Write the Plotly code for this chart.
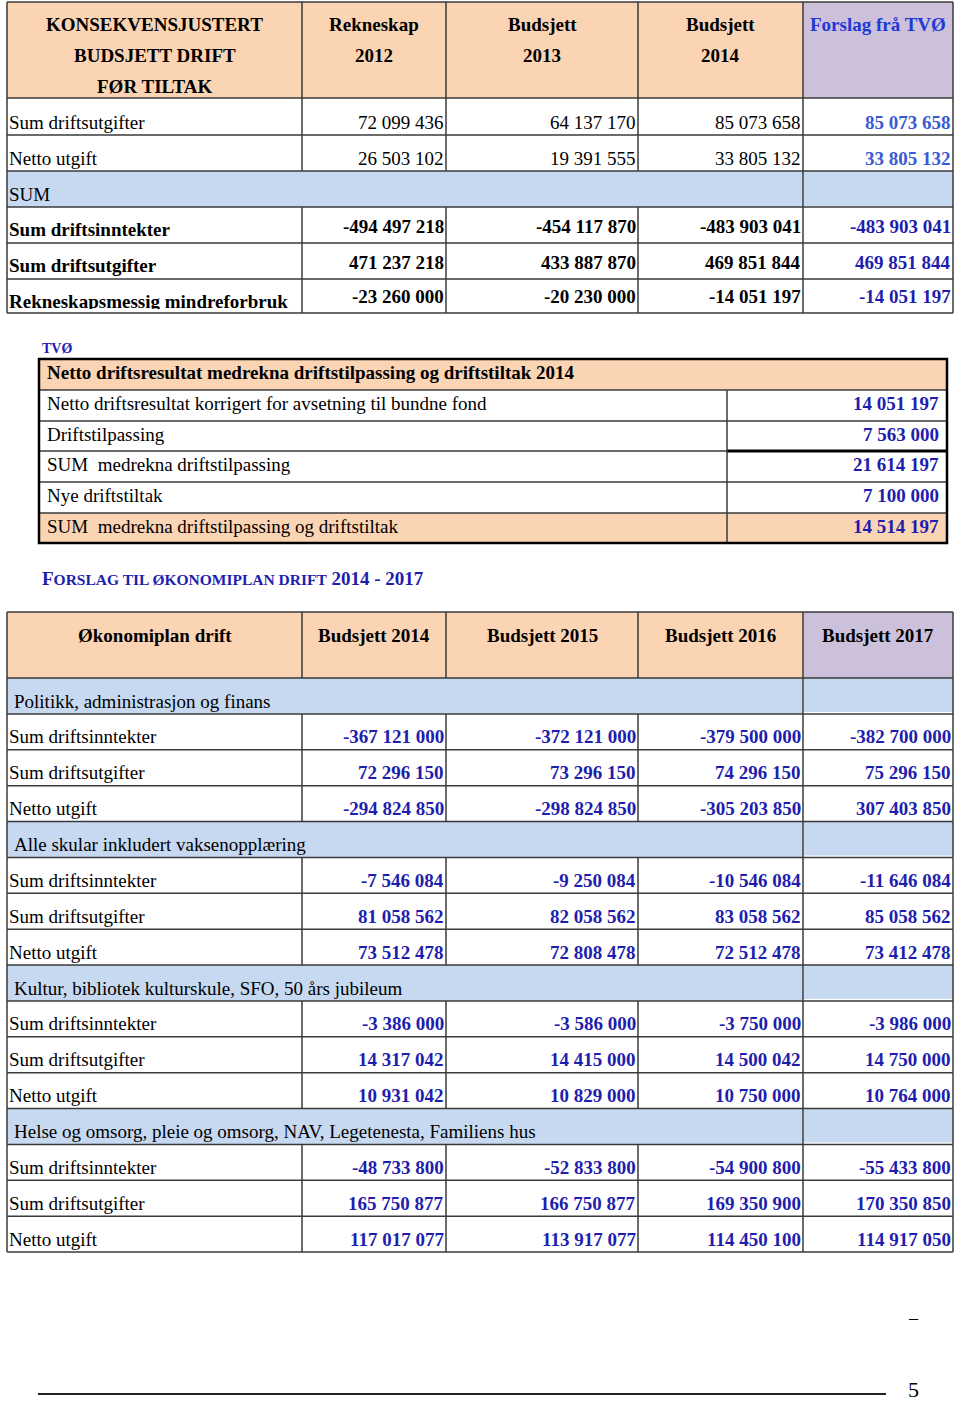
import plotly.graph_objects as go

# ---------------- data ----------------
top_headers = ["KONSEKVENSJUSTERT<br>BUDSJETT DRIFT<br>FØR TILTAK", "Rekneskap<br>2012",
               "Budsjett<br>2013", "Budsjett<br>2014", "Forslag frå TVØ"]
top_labels = ["Sum driftsutgifter", "Netto utgift", "SUM", "Sum driftsinntekter",
              "Sum driftsutgifter", "Rekneskapsmessig mindreforbruk"]
rekneskap_2012 = [72099436, 26503102, None, -494497218, 471237218, -23260000]
budsjett_2013 = [64137170, 19391555, None, -454117870, 433887870, -20230000]
budsjett_2014 = [85073658, 33805132, None, -483903041, 469851844, -14051197]
forslag_tvo = [85073658, 33805132, None, -483903041, 469851844, -14051197]

tvo_title = "Netto driftsresultat medrekna driftstilpassing og driftstiltak 2014"
tvo_labels = ["Netto driftsresultat korrigert for avsetning til bundne fond", "Driftstilpassing",
              "SUM  medrekna driftstilpassing", "Nye driftstiltak",
              "SUM  medrekna driftstilpassing og driftstiltak"]
tvo_values = [14051197, 7563000, 21614197, 7100000, 14514197]

plan_headers = ["Økonomiplan drift", "Budsjett 2014", "Budsjett 2015", "Budsjett 2016", "Budsjett 2017"]
plan_sections = ["Politikk, administrasjon og finans", "Alle skular inkludert vaksenopplæring",
                 "Kultur, bibliotek kulturskule, SFO, 50 års jubileum",
                 "Helse og omsorg, pleie og omsorg, NAV, Legetenesta, Familiens hus"]
plan_rows = ["Sum driftsinntekter", "Sum driftsutgifter", "Netto utgift"]
plan_2014 = [-367121000, 72296150, -294824850, -7546084, 81058562, 73512478,
             -3386000, 14317042, 10931042, -48733800, 165750877, 117017077]
plan_2015 = [-372121000, 73296150, -298824850, -9250084, 82058562, 72808478,
             -3586000, 14415000, 10829000, -52833800, 166750877, 113917077]
plan_2016 = [-379500000, 74296150, -305203850, -10546084, 83058562, 72512478,
             -3750000, 14500042, 10750000, -54900800, 169350900, 114450100]
plan_2017 = [-382700000, 75296150, 307403850, -11646084, 85058562, 73412478,
             -3986000, 14750000, 10764000, -55433800, 170350850, 114917050]

# ---------------- style / layout ----------------
FONT = "Liberation Serif"
PEACH = "#FBD4B4"
BLUE_ROW = "#C6D9F1"
LILAC = "#CCC0DA"
NAVY = "#1E1EAE"
LIGHT_NAVY = "#3A5AD4"
HEAD_BLUE = "#2038D8"
GRID = "#3a3a3a"
SIZE = 19

cols = [7, 302, 446, 638, 803, 953]
top_rows = [2, 98, 135, 171, 207, 243, 279, 313]
mid_x0, mid_split, mid_x1 = 39, 727, 947
mid_rows = [359, 390, 421, 451, 482, 513, 543]
plan_top, plan_head = 612, 678
plan_h = (1252 - plan_head) / 16
plan_edges = [plan_head + i * plan_h for i in range(17)]

shapes = []
notes = []


def rect(x0, y0, x1, y1, fill):
    shapes.append(dict(type="rect", xref="x", yref="y", x0=x0, y0=y0, x1=x1, y1=y1,
                       line_width=0, fillcolor=fill, layer="below"))


def line(x0, y0, x1, y1, w=1.5, c=GRID):
    shapes.append(dict(type="line", xref="x", yref="y", x0=x0, y0=y0, x1=x1, y1=y1,
                       line=dict(color=c, width=w)))


def text(s, x, y, xanchor="left", color="black", bold=False, size=SIZE, **kw):
    if bold:
        s = "<b>" + s + "</b>"
    d = dict(x=x, y=y, xref="x", yref="y", text=s, showarrow=False, xanchor=xanchor,
             yanchor="middle", font=dict(family=FONT, size=size, color=color))
    d.update(kw)
    notes.append(d)


def fmt(v):
    return f"{v:,}".replace(",", " ")


# ---------------- top table ----------------
rect(cols[0], top_rows[0], cols[4], top_rows[1], PEACH)
rect(cols[4], top_rows[0], cols[5], top_rows[1], LILAC)
rect(cols[0], top_rows[3], cols[4], top_rows[4], BLUE_ROW)
rect(cols[4] + 1, top_rows[3], cols[5], top_rows[4] - 1, BLUE_ROW)

for j, h in enumerate(top_headers):
    cx = (cols[j] + cols[j + 1]) / 2
    for k, part in enumerate(h.split("<br>")):
        text(part, cx, 24 + k * 31, xanchor="center", bold=True,
             color=HEAD_BLUE if j == 4 else "black")

top_series = [rekneskap_2012, budsjett_2013, budsjett_2014, forslag_tvo]
top_bold = [False, False, False, True, True, True]
for i, lab in enumerate(top_labels):
    y0, y1 = top_rows[i + 1], top_rows[i + 2]
    if i == len(top_labels) - 1:
        # last label is cut by the cell bottom in the original
        notes.append(dict(x=7, y=289, xref="x", yref="y", text="<b>" + lab + "</b>",
                          showarrow=False, xanchor="left", yanchor="top", valign="top",
                          height=18, font=dict(family=FONT, size=SIZE, color="black")))
    else:
        text(lab, 7, y1 - (14 if top_bold[i] else 13), bold=top_bold[i])
    for j, ser in enumerate(top_series):
        v = ser[i]
        if v is None:
            continue
        if j == 3:
            c = NAVY if top_bold[i] else LIGHT_NAVY
        else:
            c = "black"
        text(fmt(v), cols[j + 2], y1 - (17 if top_bold[i] else 13), xanchor="right",
             color=c, bold=top_bold[i] or j == 3)

for y in top_rows:
    line(cols[0], y, cols[5], y)
for i in range(len(top_rows) - 1):
    xs = cols if i != 3 else [cols[0], cols[4], cols[5]]
    for x in xs:
        line(x, top_rows[i], x, top_rows[i + 1])

# ---------------- TVØ table ----------------
text("TVØ", 40, 348, bold=True, size=14, color=NAVY)
rect(mid_x0, mid_rows[0], mid_x1, mid_rows[1], PEACH)
rect(mid_x0, mid_rows[5], mid_x1, mid_rows[6], PEACH)
text(tvo_title, 45, 372, bold=True)
for i, lab in enumerate(tvo_labels):
    y0, y1 = mid_rows[i + 1], mid_rows[i + 2]
    yc = (y0 + y1) / 2 - 2
    text(lab, 45, yc)
    text(fmt(tvo_values[i]), mid_x1 - 6, yc, xanchor="right", bold=True, color=NAVY)
for y in mid_rows[1:-1]:
    line(mid_x0, y, mid_x1, y)
line(mid_split, mid_rows[3], mid_x1, mid_rows[3], w=3, c="black")
line(mid_split, mid_rows[1], mid_split, mid_rows[6])
shapes.append(dict(type="rect", xref="x", yref="y", x0=mid_x0, y0=mid_rows[0], x1=mid_x1,
                   y1=mid_rows[6], line=dict(color="black", width=2.5)))

# ---------------- økonomiplan ----------------
text("<b>F<span style='font-size:15.5px'>ORSLAG TIL ØKONOMIPLAN DRIFT</span> 2014 - 2017</b>",
     40, 578, color=NAVY)

rect(cols[0], plan_top, cols[4], plan_head, PEACH)
rect(cols[4], plan_top, cols[5], plan_head, LILAC)
for j, h in enumerate(plan_headers):
    text(h, (cols[j] + cols[j + 1]) / 2, 635, xanchor="center", bold=True)

plan_series = [plan_2014, plan_2015, plan_2016, plan_2017]
r = 0
blue_idx = []
for s, sec in enumerate(plan_sections):
    y0, y1 = plan_edges[r], plan_edges[r + 1]
    rect(cols[0], y0, cols[4], y1, BLUE_ROW)
    rect(cols[4] + 1, y0, cols[5], y1 - 2, BLUE_ROW)
    text(sec, 12, y0 + 23)
    blue_idx.append(r)
    r += 1
    for k, lab in enumerate(plan_rows):
        y0 = plan_edges[r]
        text(lab, 7, y0 + 23)
        for j, ser in enumerate(plan_series):
            text(fmt(ser[s * 3 + k]), cols[j + 2], y0 + 23, xanchor="right",
                 bold=True, color=NAVY)
        r += 1

line(cols[0], plan_top, cols[5], plan_top)
for y in plan_edges:
    line(cols[0], y, cols[5], y)
for x in cols:
    line(x, plan_top, x, plan_head)
for i in range(16):
    xs = [cols[0], cols[4], cols[5]] if i in blue_idx else cols
    for x in xs:
        line(x, plan_edges[i], x, plan_edges[i + 1])

# ---------------- page footer ----------------
text("–", 913, 1318, xanchor="center", size=18)
line(38, 1394, 886, 1394, w=2, c="#222222")
text("5", 913, 1389, xanchor="center", size=22)

fig = go.Figure()
fig.update_layout(
    width=960, height=1402,
    margin=dict(l=0, r=0, t=0, b=0),
    paper_bgcolor="white", plot_bgcolor="white",
    font=dict(family=FONT, size=SIZE, color="black"),
    shapes=shapes, annotations=notes, showlegend=False,
)
fig.update_xaxes(range=[0, 960], visible=False, fixedrange=True)
fig.update_yaxes(range=[1402, 0], visible=False, fixedrange=True)
# the page's default body margin would push the figure off by 8px
fig.write_html("out.html", config={"displayModeBar": False},
               post_script="document.body.style.margin='0px';")
